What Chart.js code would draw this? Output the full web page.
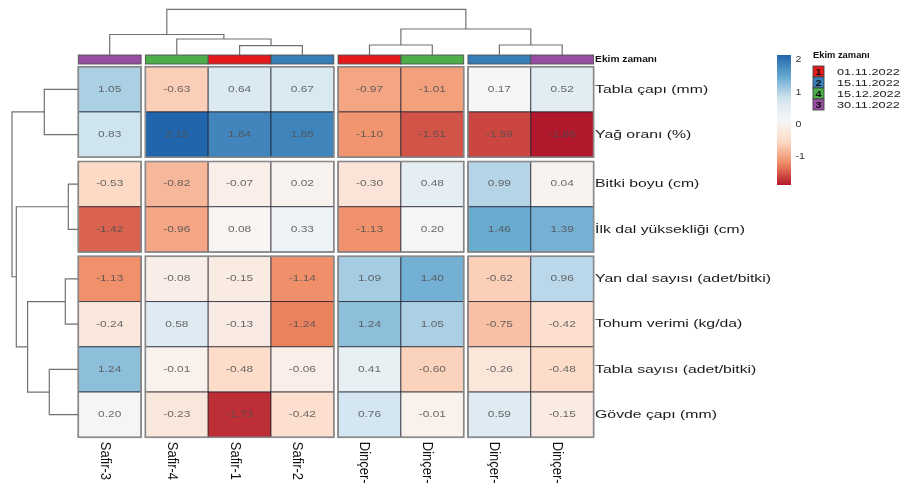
<!DOCTYPE html>
<html lang="tr">
<head>
<meta charset="utf-8">
<title>Ekim zamanı ısı haritası</title>
<script src="https://cdn.jsdelivr.net/npm/chart.js@4.4.1/dist/chart.umd.min.js"></script>
<style>
  html, body { margin: 0; padding: 0; background: #fff; }
  canvas { display: block; }
</style>
</head>
<body>
<canvas id="heatmap" width="907" height="484"></canvas>
<script>
// Columns: genotype x sowing time, in dendrogram order
const columns = ['Safir-3', 'Safir-4', 'Safir-1', 'Safir-2', 'Dinçer-1', 'Dinçer-4', 'Dinçer-2', 'Dinçer-3'];
const columnGroup = [0, 1, 1, 1, 2, 2, 3, 3];
const sowingCode = [3, 4, 1, 2, 1, 4, 2, 3];

// Rows: traits
const traits = [
  'Tabla çapı (mm)',
  'Yağ oranı (%)',
  'Bitki boyu (cm)',
  'İlk dal yüksekliği (cm)',
  'Yan dal sayısı (adet/bitki)',
  'Tohum verimi (kg/da)',
  'Tabla sayısı (adet/bitki)',
  'Gövde çapı (mm)'
];
const traitGroup = [0, 0, 1, 1, 2, 2, 2, 2];

// Scaled values (row = trait, column = genotype)
const values = [
  [1.05, -0.63, 0.64, 0.67, -0.97, -1.01, 0.17, 0.52],
  [0.83, 2.15, 1.84, 1.85, -1.10, -1.51, -1.59, -1.86],
  [-0.53, -0.82, -0.07, 0.02, -0.30, 0.48, 0.99, 0.04],
  [-1.42, -0.96, 0.08, 0.33, -1.13, 0.20, 1.46, 1.39],
  [-1.13, -0.08, -0.15, -1.14, 1.09, 1.40, -0.62, 0.96],
  [-0.24, 0.58, -0.13, -1.24, 1.24, 1.05, -0.75, -0.42],
  [1.24, -0.01, -0.48, -0.06, 0.41, -0.60, -0.26, -0.48],
  [0.20, -0.23, -1.73, -0.42, 0.76, -0.01, 0.59, -0.15]
];

// Sowing time legend
const legendCodes = [1, 2, 4, 3];
const legendDates = ['01.11.2022', '15.11.2022', '15.12.2022', '30.11.2022'];
const sowingColor = { 1: '#E41A1C', 2: '#377EB8', 3: '#984EA3', 4: '#4DAF4A' };

// Colour scale ticks
const scaleTicks = [2, 1, 0, -1];

// Dendrograms, hclust style merges (negative = leaf)
const colMerge = [[-3, -4], [-2, 1], [-1, 2], [-5, -6], [-7, -8], [4, 5], [3, 6]];
const colHeight = [0.93, 1.60, 2.05, 1.00, 1.00, 2.60, 4.57];
const rowMerge = [[-1, -2], [-3, -4], [-5, -6], [-7, -8], [3, 4], [2, 5], [1, 6]];
const rowHeight = [3.40, 1.00, 1.30, 2.90, 5.07, 6.20, 6.63];

// ---- helpers ----
const GAP_X = 0.068, GAP_Y = 0.095;
const colPos = i => i + columnGroup[i] * GAP_X;
const rowPos = r => r + traitGroup[r] * GAP_Y;

const allVals = values.flat();
const vMin = Math.min(...allVals), vMax = Math.max(...allVals);
const RDBU = ['#B2182B', '#EF8A62', '#FDDBC7', '#F7F7F7', '#D1E5F0', '#67A9CF', '#2166AC'];

function hexRgb(h) {
  return [1, 3, 5].map(i => parseInt(h.substr(i, 2), 16));
}
function colorFor(v) {
  let t = (v - vMin) / (vMax - vMin) * (RDBU.length - 1);
  t = Math.max(0, Math.min(RDBU.length - 1, t));
  const i = Math.min(Math.floor(t), RDBU.length - 2), f = t - i;
  const a = hexRgb(RDBU[i]), b = hexRgb(RDBU[i + 1]);
  const c = a.map((x, k) => Math.round(x + (b[k] - x) * f));
  return `rgb(${c[0]},${c[1]},${c[2]})`;
}

function wideText(ctx, str, x, y, font, color, sx, align) {
  ctx.save();
  ctx.translate(x, y);
  ctx.scale(sx, 1);
  ctx.font = font;
  ctx.fillStyle = color;
  ctx.textAlign = align || 'left';
  ctx.textBaseline = 'middle';
  ctx.fillText(str, 0, 0);
  ctx.restore();
}

function drawTree(ctx, merges, heights, leafPix, base, pxPerUnit, side) {
  const nodes = [];
  const get = k => (k < 0 ? { p: leafPix[-k - 1], h: 0 } : nodes[k - 1]);
  const pt = (p, h) => (side === 'top' ? [p, base - h * pxPerUnit] : [base - h * pxPerUnit, p]);
  ctx.save();
  ctx.strokeStyle = '#707070';
  ctx.lineWidth = 1.2;
  merges.forEach(([a, b], i) => {
    const A = get(a), B = get(b), h = heights[i];
    ctx.beginPath();
    ctx.moveTo(...pt(A.p, A.h));
    ctx.lineTo(...pt(A.p, h));
    ctx.lineTo(...pt(B.p, h));
    ctx.lineTo(...pt(B.p, B.h));
    ctx.stroke();
    nodes.push({ p: (A.p + B.p) / 2, h });
  });
  ctx.restore();
}

const cells = [];
values.forEach((row, r) => row.forEach((v, c) => {
  cells.push({ x: colPos(c) + 0.5, y: rowPos(r) + 0.5, v });
}));

const heatmapPlugin = {
  id: 'heatmap',
  afterDatasetsDraw(chart) {
    const { ctx, chartArea: area, scales: { x, y } } = chart;
    const pts = chart.data.datasets[0].data;

    // cells
    pts.forEach(p => {
      const x0 = x.getPixelForValue(p.x - 0.5), x1 = x.getPixelForValue(p.x + 0.5);
      const y0 = y.getPixelForValue(p.y - 0.5), y1 = y.getPixelForValue(p.y + 0.5);
      ctx.fillStyle = colorFor(p.v);
      ctx.fillRect(x0, y0, x1 - x0, y1 - y0);
      ctx.strokeStyle = 'rgba(25,25,40,0.7)';
      ctx.lineWidth = 1;
      ctx.strokeRect(x0, y0, x1 - x0, y1 - y0);
    });

    // group frames
    const cg = [...new Set(columnGroup)], rg = [...new Set(traitGroup)];
    cg.forEach(g => {
      const cs = columns.map((_, i) => i).filter(i => columnGroup[i] === g);
      const gx0 = x.getPixelForValue(colPos(cs[0])), gx1 = x.getPixelForValue(colPos(cs[cs.length - 1]) + 1);
      rg.forEach(h => {
        const rs = traits.map((_, i) => i).filter(i => traitGroup[i] === h);
        const gy0 = y.getPixelForValue(rowPos(rs[0])), gy1 = y.getPixelForValue(rowPos(rs[rs.length - 1]) + 1);
        ctx.strokeStyle = '#8a8a8a';
        ctx.lineWidth = 1.6;
        ctx.strokeRect(gx0, gy0, gx1 - gx0, gy1 - gy0);
      });
    });

    // cell values
    pts.forEach(p => {
      wideText(ctx, p.v.toFixed(2), x.getPixelForValue(p.x), y.getPixelForValue(p.y),
        '8.5px "Liberation Sans", Arial, sans-serif', 'rgba(80,80,80,0.85)', 1.4, 'center');
    });

    // column annotation (sowing time)
    const annTop = area.top - 11.7, annH = 9;
    columns.forEach((_, c) => {
      const x0 = x.getPixelForValue(colPos(c)), x1 = x.getPixelForValue(colPos(c) + 1);
      ctx.fillStyle = sowingColor[sowingCode[c]];
      ctx.fillRect(x0, annTop, x1 - x0, annH);
      ctx.strokeStyle = '#505050';
      ctx.lineWidth = 0.9;
      ctx.strokeRect(x0, annTop, x1 - x0, annH);
    });
    wideText(ctx, 'Ekim zamanı', area.right + 1.5, annTop + annH / 2 + 0.5,
      'bold 8.5px "Liberation Sans", Arial, sans-serif', '#111', 1.2);

    // dendrograms
    const colLeaf = columns.map((_, c) => x.getPixelForValue(colPos(c) + 0.5));
    drawTree(ctx, colMerge, colHeight, colLeaf, annTop, 10, 'top');
    const rowLeaf = traits.map((_, r) => y.getPixelForValue(rowPos(r) + 0.5));
    drawTree(ctx, rowMerge, rowHeight, rowLeaf, area.left, 10, 'left');

    // row labels
    traits.forEach((t, r) => {
      wideText(ctx, t, area.right + 1.5, rowLeaf[r], '11.6px "Liberation Sans", Arial, sans-serif', '#1a1a1a', 1.36);
    });

    // column labels (rotated, reading downward)
    columns.forEach((name, c) => {
      ctx.save();
      ctx.translate(colLeaf[c] - 9, area.bottom + 4.5);
      ctx.rotate(Math.PI / 2);
      ctx.scale(1, 1.12);
      ctx.font = '13px "Liberation Sans", Arial, sans-serif';
      ctx.fillStyle = '#111';
      ctx.textAlign = 'left';
      ctx.textBaseline = 'alphabetic';
      ctx.fillText(name, 0, 0);
      ctx.restore();
    });

    // colour bar legend
    const barX = 777, barY = 55, barW = 14, barH = 130;
    const grad = ctx.createLinearGradient(0, barY, 0, barY + barH);
    for (let k = 0; k <= 40; k++) {
      grad.addColorStop(k / 40, colorFor(vMax - (vMax - vMin) * k / 40));
    }
    ctx.fillStyle = grad;
    ctx.fillRect(barX, barY, barW, barH);
    scaleTicks.forEach(v => {
      const ty = barY + (vMax - v) / (vMax - vMin) * barH;
      wideText(ctx, String(v), barX + barW + 4.5, ty, '8.5px "Liberation Sans", Arial, sans-serif', '#333', 1.25);
    });

    // sowing time legend
    const lx = 813, ly = 66, box = 11;
    wideText(ctx, 'Ekim zamanı', lx, 56, 'bold 8.5px "Liberation Sans", Arial, sans-serif', '#111', 1.1);
    legendCodes.forEach((code, i) => {
      const by = ly + i * box;
      ctx.fillStyle = sowingColor[code];
      ctx.fillRect(lx, by, box, box);
      ctx.strokeStyle = '#444';
      ctx.lineWidth = 0.9;
      ctx.strokeRect(lx, by, box, box);
      wideText(ctx, String(code), lx + box / 2, by + box / 2 + 0.5, 'bold 9.5px "Liberation Sans", Arial, sans-serif', '#111', 1.15, 'center');
      wideText(ctx, legendDates[i], lx + 24, by + box / 2 + 0.5, '9.8px "Liberation Sans", Arial, sans-serif', '#222', 1.3);
    });
  }
};

new Chart(document.getElementById('heatmap'), {
  type: 'scatter',
  data: { datasets: [{ data: cells, pointRadius: 0, pointHoverRadius: 0 }] },
  options: {
    responsive: false,
    animation: false,
    events: [],
    layout: { padding: { left: 78.3, top: 66.7, right: 907 - 593.6, bottom: 484 - 437.3 } },
    scales: {
      x: { type: 'linear', display: false, min: 0, max: colPos(columns.length - 1) + 1 },
      y: { type: 'linear', display: false, reverse: true, min: 0, max: rowPos(traits.length - 1) + 1 }
    },
    plugins: { legend: { display: false }, tooltip: { enabled: false } }
  },
  plugins: [heatmapPlugin]
});
</script>
</body>
</html>
